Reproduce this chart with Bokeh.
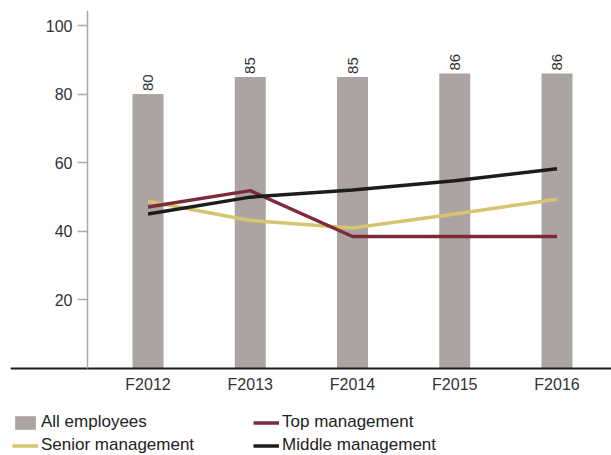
import math
from bokeh.plotting import figure
from bokeh.models import LinearAxis, FixedTicker, Legend, LegendItem, Range1d
from bokeh.core.properties import value
from bokeh.embed import file_html
from bokeh.resources import INLINE

years = ["F2012", "F2013", "F2014", "F2015", "F2016"]
all_employees = [80, 85, 85, 86, 86]
senior_mgmt = [48.7, 43.1, 40.9, 45.0, 49.3]
top_mgmt = [47.0, 51.8, 38.4, 38.4, 38.4]
middle_mgmt = [45.0, 49.9, 52.0, 54.7, 58.2]
y_ticks = [20, 40, 60, 80, 100]

xs = list(range(len(years)))

FONT = "'Liberation Sans Narrow', 'Liberation Sans', Arial, sans-serif"
REG = "'Liberation Sans', Arial, sans-serif"

p = figure(width=611, height=455, output_backend="svg", toolbar_location=None,
           x_axis_type=None, y_axis_type=None,
           x_range=Range1d(-1.345, 4.533), y_range=Range1d(-25.55, 104.4),
           min_border_left=10, min_border_right=0, min_border_top=10, min_border_bottom=0)
p.outline_line_color = None
p.xgrid.visible = False
p.ygrid.visible = False
p.background_fill_color = "white"
p.border_fill_color = "white"

BAR_C = "#aca4a3"
YEL = "#d6c46f"
MAR = "#7d2a3a"
BLK = "#1c1c1c"

bars = p.vbar(x=xs, top=all_employees, width=0.303, fill_color=BAR_C, line_color=None)
p.text(x=xs, y=all_employees, text=[str(v) for v in all_employees], angle=math.pi / 2,
       y_offset=-3, text_align="left", text_baseline="middle",
       text_font=value(FONT), text_font_size="15px", text_color="#333333")

l_sen = p.line(xs, senior_mgmt, line_color=YEL, line_width=3.5)
l_top = p.line(xs, top_mgmt, line_color=MAR, line_width=3.5)
l_mid = p.line(xs, middle_mgmt, line_color=BLK, line_width=3.5)

xaxis = LinearAxis(ticker=FixedTicker(ticks=xs), fixed_location=0,
                   major_label_overrides={i: y for i, y in enumerate(years)})
xaxis.axis_line_color = BLK
xaxis.axis_line_width = 2
xaxis.major_tick_out = 0
xaxis.major_tick_in = 0
xaxis.minor_tick_out = 0
xaxis.minor_tick_in = 0
xaxis.major_label_standoff = 8
xaxis.major_label_text_font = FONT
xaxis.major_label_text_font_size = "16px"
xaxis.major_label_text_color = "#333333"
p.add_layout(xaxis, "below")

yaxis = LinearAxis(ticker=FixedTicker(ticks=y_ticks), fixed_location=-0.592, bounds=(0, 104.4))
yaxis.axis_line_color = "#aaaaaa"
yaxis.axis_line_width = 1.5
yaxis.major_tick_line_color = "#aaaaaa"
yaxis.major_tick_line_width = 1.5
yaxis.major_tick_out = 10
yaxis.major_tick_in = 0
yaxis.minor_tick_out = 0
yaxis.minor_tick_in = 0
yaxis.major_label_standoff = 5
yaxis.major_label_text_font = FONT
yaxis.major_label_text_font_size = "16px"
yaxis.major_label_text_color = "#333333"
p.add_layout(yaxis, "left")


def make_legend(items, loc):
    lg = Legend(items=items, location=loc, orientation="vertical",
                glyph_width=26, glyph_height=17, label_height=17,
                label_standoff=3, spacing=3, padding=0, margin=0,
                border_line_color=None, background_fill_alpha=0,
                label_text_font=REG, label_text_font_size="17px",
                label_text_color="#222222")
    return lg


lg1 = make_legend([LegendItem(label="All employees", renderers=[bars]),
                   LegendItem(label="Senior management", renderers=[l_sen])], (2, 0))
lg2 = make_legend([LegendItem(label="Top management", renderers=[l_top]),
                   LegendItem(label="Middle management", renderers=[l_mid])], (243, 0))
p.add_layout(lg1)
p.add_layout(lg2)

open("out.html", "w").write(file_html(p, INLINE))
